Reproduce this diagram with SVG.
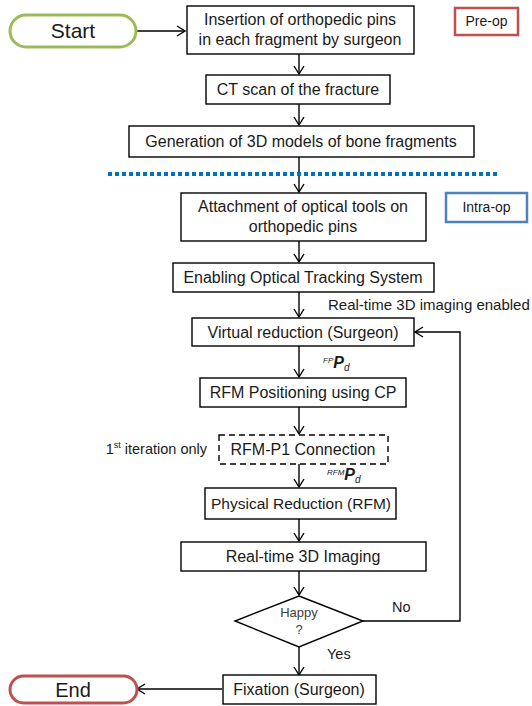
<svg xmlns="http://www.w3.org/2000/svg" width="532" height="706" viewBox="0 0 532 706">
<defs>
<style>
.box{fill:#fff;stroke:#000;stroke-width:1.4}
.t{font-family:"Liberation Sans",Arial,sans-serif;font-size:16px;fill:#1a1a1a;text-anchor:middle}
.s{font-family:"Liberation Sans",Arial,sans-serif;font-size:14.5px;fill:#1a1a1a}
.c{fill:none;stroke:#000;stroke-width:1.4}
</style>
<marker id="a" markerWidth="12" markerHeight="12" refX="10" refY="6" orient="auto" markerUnits="userSpaceOnUse">
<path d="M2,1 L10,6 L2,11" fill="none" stroke="#000" stroke-width="1.4"/>
</marker>
</defs>
<rect width="532" height="706" fill="#fff"/>
<g id="connectors">
<path class="c" d="M136,31 H185" marker-end="url(#a)"/>
<path class="c" d="M299,54 V74" marker-end="url(#a)"/>
<path class="c" d="M299,104 V125" marker-end="url(#a)"/>
<path class="c" d="M299,157 V192" marker-end="url(#a)"/>
<path class="c" d="M299,241 V262" marker-end="url(#a)"/>
<path class="c" d="M299,292 V317" marker-end="url(#a)"/>
<path class="c" d="M299,346 V377" marker-end="url(#a)"/>
<path class="c" d="M299,407 V434" marker-end="url(#a)"/>
<path class="c" d="M299,464 V487" marker-end="url(#a)"/>
<path class="c" d="M299,519 V541" marker-end="url(#a)"/>
<path class="c" d="M299,571 V595" marker-end="url(#a)"/>
<path class="c" d="M299,647 V675" marker-end="url(#a)"/>
<path class="c" d="M363,621 H460 V332 H415" marker-end="url(#a)"/>
<path class="c" d="M222,689 H137" marker-end="url(#a)"/>
</g>
<line x1="108" y1="174" x2="500" y2="174" stroke="#0070c0" stroke-width="4" stroke-dasharray="4 3"/>
<g id="start">
<rect x="10" y="15" width="126" height="32" rx="16" fill="#fff" stroke="#9bbb59" stroke-width="3"/>
<text class="t" x="73" y="38" style="font-size:21px">Start</text>
</g>
<g id="insertion">
<rect class="box" x="187" y="6" width="227" height="48"/>
<text class="t" x="300" y="25">Insertion of orthopedic pins</text>
<text class="t" x="300" y="45">in each fragment by surgeon</text>
</g>
<g id="preop">
<rect x="455" y="8" width="63" height="27" fill="#fff" stroke="#c0504d" stroke-width="2.5"/>
<text class="t" x="486.5" y="26" style="font-size:14px">Pre-op</text>
</g>
<g id="ct">
<rect class="box" x="206" y="75" width="184" height="29"/>
<text class="t" x="298" y="95">CT scan of the fracture</text>
</g>
<g id="gen">
<rect class="box" x="129" y="126" width="345" height="31"/>
<text class="t" x="301" y="147">Generation of 3D models of bone fragments</text>
</g>
<g id="attach">
<rect class="box" x="181" y="193" width="245" height="48"/>
<text class="t" x="303" y="212">Attachment of optical tools on</text>
<text class="t" x="303" y="232">orthopedic pins</text>
</g>
<g id="intraop">
<rect x="446" y="193" width="81" height="29" fill="#fff" stroke="#4f81bd" stroke-width="2.5"/>
<text class="t" x="486.5" y="212" style="font-size:14px">Intra-op</text>
</g>
<g id="enable">
<rect class="box" x="173" y="263" width="261" height="29"/>
<text class="t" x="303" y="283">Enabling Optical Tracking System</text>
</g>
<text class="s" x="328" y="310" style="font-size:15px">Real-time 3D imaging enabled</text>
<g id="virtual">
<rect class="box" x="192" y="318" width="222" height="28"/>
<text class="t" x="303" y="338">Virtual reduction (Surgeon)</text>
</g>
<text x="323" y="368" font-family="Liberation Sans,Arial,sans-serif" fill="#1a1a1a" font-style="italic"><tspan font-size="8" dy="-5">FP</tspan><tspan font-size="16" font-weight="bold" dy="5">P</tspan><tspan font-size="10" dy="3">d</tspan></text>
<g id="rfmpos">
<rect class="box" x="200" y="378" width="206" height="29"/>
<text class="t" x="303" y="398">RFM Positioning using CP</text>
</g>
<g id="rfmconn">
<rect class="box" x="219" y="435" width="169" height="29" stroke-dasharray="6 4" stroke-width="2"/>
<text class="t" x="303" y="455">RFM-P1 Connection</text>
</g>
<text class="s" x="207" y="454" text-anchor="end">1<tspan font-size="9" dy="-6">st</tspan><tspan dy="6"> iteration only</tspan></text>
<text x="327" y="480" font-family="Liberation Sans,Arial,sans-serif" fill="#1a1a1a" font-style="italic"><tspan font-size="8" dy="-5">RFM</tspan><tspan font-size="16" font-weight="bold" dy="5">P</tspan><tspan font-size="10" dy="3">d</tspan></text>
<g id="physical">
<rect class="box" x="205" y="488" width="191" height="31"/>
<text class="t" x="301" y="509" style="font-size:15.5px">Physical Reduction (RFM)</text>
</g>
<g id="imaging">
<rect class="box" x="181" y="542" width="245" height="29"/>
<text class="t" x="303" y="562">Real-time 3D Imaging</text>
</g>
<g id="happy">
<polygon class="box" points="299,596 363,621 299,647 235,621"/>
<text class="t" x="299" y="617" style="font-size:13px;fill:#404040">Happy</text>
<text class="t" x="299" y="634" style="font-size:13px;fill:#404040">?</text>
</g>
<text class="s" x="392" y="612">No</text>
<text class="s" x="327" y="659">Yes</text>
<g id="fixation">
<rect class="box" x="223" y="675" width="153" height="29"/>
<text class="t" x="299" y="695">Fixation (Surgeon)</text>
</g>
<g id="end">
<rect x="10" y="676" width="127" height="27" rx="13.5" fill="#fff" stroke="#c0504d" stroke-width="3"/>
<text class="t" x="73" y="697" style="font-size:20px">End</text>
</g>
</svg>
